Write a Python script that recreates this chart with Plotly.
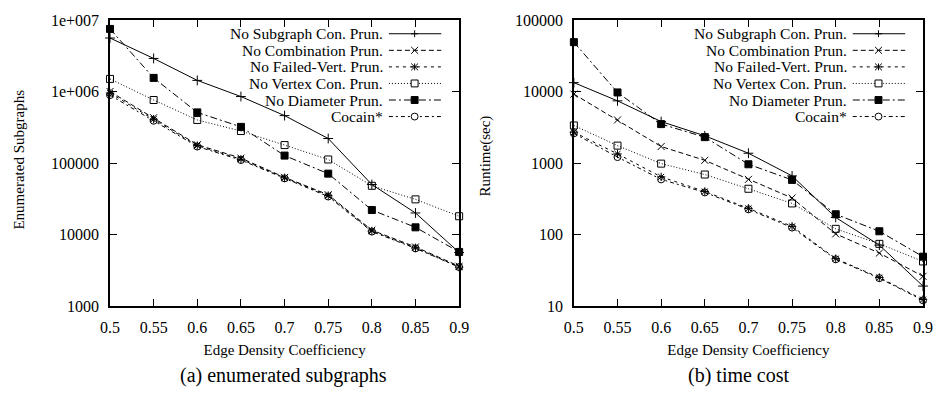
import math
import plotly.graph_objects as go

# ---------------- data ----------------
x_vals = [0.5, 0.55, 0.6, 0.65, 0.7, 0.75, 0.8, 0.85, 0.9]
x_tick_text = ["0.5", "0.55", "0.6", "0.65", "0.7", "0.75", "0.8", "0.85", "0.9"]

series_names = ["No Subgraph Con. Prun.", "No Combination Prun.", "No Failed-Vert. Prun.",
                "No Vertex Con. Prun.", "No Diameter Prun.", "Cocain*"]

# (a) enumerated subgraphs
subgraph_con_enum = [5.6e6, 2.9e6, 1.43e6, 8.5e5, 4.6e5, 2.2e5, 5.0e4, 2.0e4, 5.6e3]
combination_enum = [1.0e6, 4.3e5, 1.8e5, 1.17e5, 6.3e4, 3.6e4, 1.15e4, 6.7e3, 3.6e3]
failed_vert_enum = [9.5e5, 4.1e5, 1.75e5, 1.13e5, 6.2e4, 3.5e4, 1.12e4, 6.5e3, 3.5e3]
vertex_con_enum = [1.5e6, 7.6e5, 4.0e5, 2.8e5, 1.78e5, 1.12e5, 4.8e4, 3.1e4, 1.8e4]
diameter_enum = [7.5e6, 1.55e6, 5.1e5, 3.2e5, 1.27e5, 7.1e4, 2.2e4, 1.26e4, 5.7e3]
cocain_enum = [8.9e5, 3.9e5, 1.7e5, 1.1e5, 6.1e4, 3.4e4, 1.1e4, 6.4e3, 3.5e3]

# (b) runtime (sec)
subgraph_con_time = [1.33e4, 7.4e3, 3.8e3, 2.4e3, 1.37e3, 660, 173, 71, 19]
combination_time = [9.2e3, 4.0e3, 1.7e3, 1.09e3, 590, 324, 102, 55, 26]
failed_vert_time = [2.7e3, 1.34e3, 640, 400, 232, 130, 46, 25, 12.3]
vertex_con_time = [3.35e3, 1.75e3, 980, 690, 436, 272, 120, 74, 42]
diameter_time = [4.9e4, 9.7e3, 3.5e3, 2.3e3, 960, 580, 192, 111, 49]
cocain_time = [2.6e3, 1.21e3, 590, 388, 225, 125, 45, 24.5, 12]

enum_label_alias = {"1000000": "1e+006", "10000000": "1e+007"}
enum_decades = [3, 4, 5, 6]   # log10 of decade starts, left panel
time_decades = [1, 2, 3, 4]   # right panel

# ---------------- styles ----------------
FONT = "Liberation Serif, Times New Roman, Times, DejaVu Serif, serif"
dashes = ["solid", "5px,3px", "3px,4px", "1px,2px", "7px,3px,2px,3px", "4px,3px,2px,3px"]
symbols = ["cross-thin", "x-thin", "asterisk", "square-open", "square", "circle-open"]
legend_kind = ["plus", "x", "star", "sq_open", "sq_fill", "circle"]

W, H = 945, 393
ML, MR, MT, MB = 110, 13, 15, 87
plot_w = W - ML - MR
sub_w = 353.0
sub_h = H - MT - MB
d1 = sub_w / plot_w

fig = go.Figure()

enum_data = [subgraph_con_enum, combination_enum, failed_vert_enum,
             vertex_con_enum, diameter_enum, cocain_enum]
time_data = [subgraph_con_time, combination_time, failed_vert_time,
             vertex_con_time, diameter_time, cocain_time]

for axi, data in ((1, enum_data), (2, time_data)):
    for name, ys, dash, sym in zip(series_names, data, dashes, symbols):
        fig.add_trace(go.Scatter(
            x=x_vals, y=ys, mode="lines+markers", name=name, showlegend=False,
            xaxis="x" if axi == 1 else "x2", yaxis="y" if axi == 1 else "y2",
            line=dict(color="black", width=1, dash=dash),
            marker=dict(symbol=sym, size=7, color="black",
                        line=dict(color="black", width=1)),
            cliponaxis=False,
        ))

common_x = dict(range=[0.5, 0.9], tickvals=x_vals, ticktext=x_tick_text,
                ticks="inside", ticklen=7, tickwidth=1, tickcolor="black",
                showline=True, linecolor="black", linewidth=1.5, mirror="allticks",
                showgrid=False, zeroline=False, ticklabelstandoff=6,
                tickfont=dict(family=FONT, size=16, color="black"),
                title=dict(text="Edge Density Coefficiency", standoff=10,
                           font=dict(family=FONT, size=15, color="black")))
common_y = dict(type="log", dtick=1, exponentformat="none", separatethousands=False,
                ticks="inside", ticklen=7, tickwidth=1, tickcolor="black",
                showline=True, linecolor="black", linewidth=1.5, mirror="allticks",
                showgrid=False, zeroline=False, ticklabelstandoff=6,
                tickfont=dict(family=FONT, size=16, color="black"))

fig.update_layout(
    width=W, height=H, margin=dict(l=ML, r=MR, t=MT, b=MB),
    paper_bgcolor="white", plot_bgcolor="white", showlegend=False,
    separators=".",
    xaxis=dict(domain=[0, d1], anchor="y", **common_x),
    yaxis=dict(domain=[0, 1], anchor="x", range=[3, 7], labelalias=enum_label_alias,
               **common_y),
    xaxis2=dict(domain=[1 - d1, 1], anchor="y2", **common_x),
    yaxis2=dict(domain=[0, 1], anchor="x2", range=[1, 5], **common_y),
)


def px_to_paper_x(px):
    return (px - ML) / plot_w


def py_to_paper_y(py):
    return 1 - (py - MT) / sub_h


annotations = [
    dict(text="Enumerated Subgraphs", x=px_to_paper_x(18), y=py_to_paper_y(157),
         textangle=-90, font=dict(family=FONT, size=15)),
    dict(text="Runtime(sec)", x=px_to_paper_x(490), y=py_to_paper_y(153),
         textangle=-90, font=dict(family=FONT, size=15)),
    dict(text="(a) enumerated subgraphs", x=px_to_paper_x(285), y=py_to_paper_y(377),
         font=dict(family=FONT, size=20)),
    dict(text="(b) time cost", x=px_to_paper_x(746), y=py_to_paper_y(377),
         font=dict(family=FONT, size=20)),
]
for a in annotations:
    a.update(xref="paper", yref="paper", showarrow=False, xanchor="center",
             yanchor="middle")
    a["font"]["color"] = "black"

shapes = []

# ---------------- minor log ticks (inside, both sides) ----------------
minor_len = 4.0 / sub_w
for xr, yr, decades in (("x domain", "y", enum_decades), ("x2 domain", "y2", time_decades)):
    for d in decades:
        for k in range(2, 10):
            yv = d + math.log10(k)
            for x0, x1 in ((0, minor_len), (1 - minor_len, 1)):
                shapes.append(dict(type="line", xref=xr, yref=yr, x0=x0, x1=x1,
                                   y0=yv, y1=yv, line=dict(color="black", width=1)))

# ---------------- custom gnuplot-style legends ----------------
row_y0 = 14.0          # px below top of plotting area
row_dy = 16.85
text_right_px = 278.0  # px right of left edge of plotting area
line_x0_px, line_x1_px = 282.0, 335.0
mark_px = 308.0
ms = 3.5

for xr, yr in (("x domain", "y domain"), ("x2 domain", "y2 domain")):
    def dx(p):
        return p / sub_w

    def dy(p):
        return 1 - p / sub_h

    for i, (name, dash, kind) in enumerate(zip(series_names, dashes, legend_kind)):
        ry = row_y0 + i * row_dy
        annotations.append(dict(
            text=name, xref=xr, yref=yr, x=dx(text_right_px), y=dy(ry),
            xanchor="right", yanchor="middle", showarrow=False,
            font=dict(family=FONT, size=15.5, color="black")))
        shapes.append(dict(type="line", xref=xr, yref=yr,
                           x0=dx(line_x0_px), x1=dx(line_x1_px), y0=dy(ry), y1=dy(ry),
                           line=dict(color="black", width=1, dash=dash)))
        mx = mark_px
        if kind in ("plus", "star"):
            shapes.append(dict(type="line", xref=xr, yref=yr, x0=dx(mx - ms), x1=dx(mx + ms),
                               y0=dy(ry), y1=dy(ry), line=dict(color="black", width=1)))
            shapes.append(dict(type="line", xref=xr, yref=yr, x0=dx(mx), x1=dx(mx),
                               y0=dy(ry - ms), y1=dy(ry + ms), line=dict(color="black", width=1)))
        if kind in ("x", "star"):
            shapes.append(dict(type="line", xref=xr, yref=yr, x0=dx(mx - ms), x1=dx(mx + ms),
                               y0=dy(ry - ms), y1=dy(ry + ms), line=dict(color="black", width=1)))
            shapes.append(dict(type="line", xref=xr, yref=yr, x0=dx(mx - ms), x1=dx(mx + ms),
                               y0=dy(ry + ms), y1=dy(ry - ms), line=dict(color="black", width=1)))
        if kind in ("sq_open", "sq_fill"):
            shapes.append(dict(type="rect", xref=xr, yref=yr, x0=dx(mx - ms), x1=dx(mx + ms),
                               y0=dy(ry - ms), y1=dy(ry + ms),
                               fillcolor="black" if kind == "sq_fill" else "white",
                               line=dict(color="black", width=1)))
        if kind == "circle":
            shapes.append(dict(type="circle", xref=xr, yref=yr, x0=dx(mx - ms), x1=dx(mx + ms),
                               y0=dy(ry - ms), y1=dy(ry + ms), fillcolor="white",
                               line=dict(color="black", width=1)))

fig.update_layout(annotations=annotations, shapes=shapes)
fig.write_html("out.html")
